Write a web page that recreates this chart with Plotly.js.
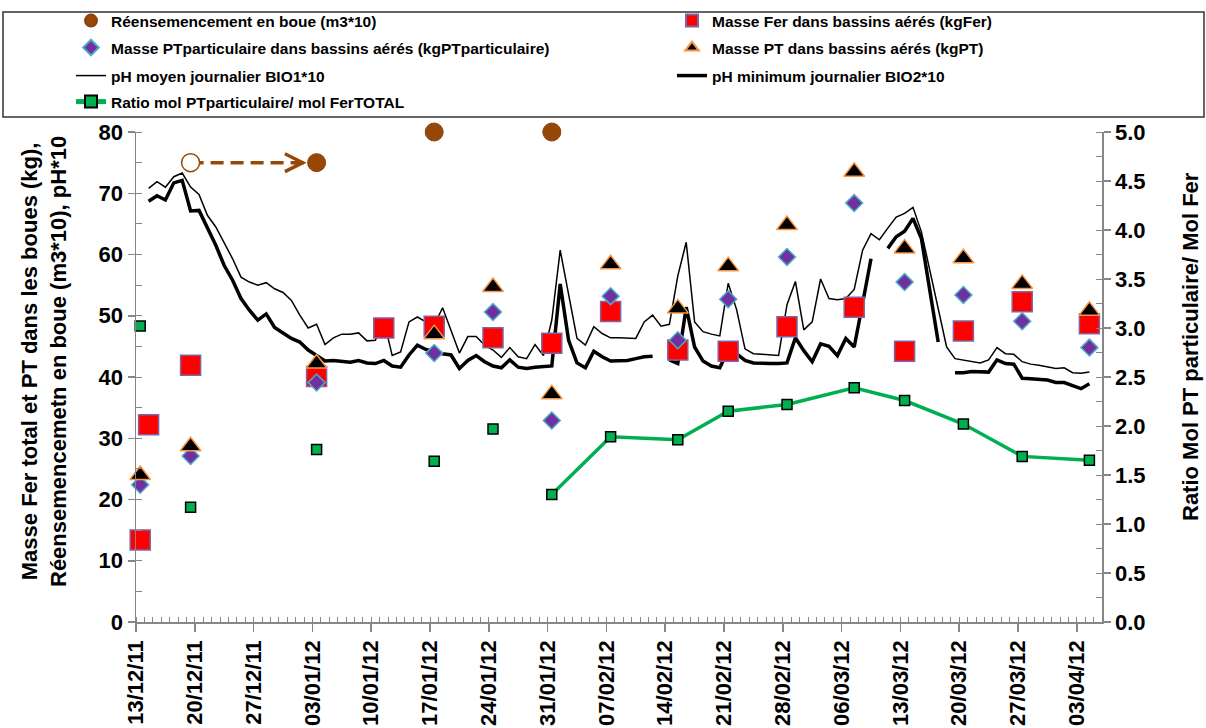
<!DOCTYPE html>
<html>
<head>
<meta charset="utf-8">
<script src="https://cdn.plot.ly/plotly-3.0.1.min.js"></script>
<style>html,body{margin:0;padding:0;background:#fff;}#chart{width:1206px;height:728px;}</style>
</head>
<body>
<div id="chart"></div>
<script>
// ---------------- DATA ----------------
const sampleDates = ['2011-12-13','2011-12-19','2012-01-03','2012-01-17','2012-01-24','2012-01-31','2012-02-07',
  '2012-02-15','2012-02-21','2012-02-28','2012-03-07','2012-03-13','2012-03-20','2012-03-27','2012-04-04'];
const ptPartValues = [22.4, 27.1, 39.1, 43.9, 50.6, 32.9, 53.2, 46.0, 52.7, 59.6, 68.4, 55.5, 53.4, 49.1, 44.8];
const ptValues     = [24.0, 28.7, 42.2, 47.0, 54.7, 37.2, 58.4, 51.2, 58.1, 64.8, 73.5, 61.0, 59.4, 55.2, 50.8];
const ratioValues  = [3.02, 1.17, 1.76, 1.64, 1.97, 1.30, 1.89, 1.86, 2.15, 2.22, 2.39, 2.26, 2.02, 1.69, 1.65];
const ratioLineStart = '2012-01-31';

const ferDates = ['2011-12-13','2011-12-14','2011-12-19','2012-01-03','2012-01-11','2012-01-17','2012-01-24','2012-01-31',
  '2012-02-07','2012-02-15','2012-02-21','2012-02-28','2012-03-07','2012-03-13','2012-03-20','2012-03-27','2012-04-04'];
const ferValues = [13.4, 32.2, 41.9, 40.1, 48.0, 48.3, 46.4, 45.5, 50.7, 44.4, 44.2, 48.2, 51.4, 44.2, 47.5, 52.3, 48.7];

const reseedDates  = ['2012-01-03','2012-01-17','2012-01-31'];
const reseedValues = [75, 80, 80];
const plannedReseedDates  = ['2011-12-19'];
const plannedReseedValues = [75];

const phStart = '2011-12-14';
const phMoyen = [
  70.8, 71.9, 71.0, 72.7, 73.3, 71.0, 69.8, 66.4, 64.5, 62.0,
  59.3, 56.3, 55.5, 55.0, 55.4, 54.4, 53.8, 52.5, 50.1, 48.0,
  48.6, 45.3, 46.4, 47.0, 47.0, 47.2, 45.9, 46.0, 49.3, 43.5,
  44.1, 49.0, 49.8, 49.0, 48.5, 51.3, 47.6, 43.9, 46.6, 46.6,
  45.2, 44.4, 43.2, 44.8, 43.3, 43.0, 45.3, 43.5, 49.3, 60.7,
  53.5, 46.3, 45.2, 48.2, 47.1, 46.4, 46.4, 46.4, 46.3, 49.0,
  50.1, 48.3, 48.6, 56.5, 62.0, 49.0, 47.4, 47.0, 46.7, 55.3,
  51.0, 44.6, 43.8, 43.7, 43.6, 43.5, 51.8, 55.6, 47.7, 49.0,
  56.0, 52.8, 52.6, 52.8, 54.3, 60.7, 63.4, 62.4, 64.3, 66.1,
  66.7, 67.7, 63.7, 57.4, 51.2, 44.9, 43.0, 42.8, 42.5, 42.3,
  42.8, 44.8, 43.8, 43.7, 42.5, 42.1, 41.9, 41.7, 41.4, 41.5,
  40.7, 40.6, 40.8
];
const phMin = [
  68.7, 69.6, 68.9, 71.7, 72.1, 67.1, 67.2, 64.5, 61.5, 58.2,
  55.8, 52.8, 50.9, 49.3, 50.3, 48.1, 47.2, 46.3, 45.7, 44.4,
  43.5, 42.6, 42.7, 42.6, 42.4, 42.7, 42.3, 42.2, 42.7, 41.8,
  41.6, 43.6, 45.2, 44.5, 44.1, 43.8, 43.6, 41.4, 42.7, 43.5,
  42.5, 41.8, 41.5, 42.8, 41.6, 41.4, 41.6, 41.7, 41.8, 55.2,
  46.0, 42.3, 41.5, 44.2, 43.3, 42.6, 42.6, 42.7, 43.0, 43.3,
  43.4, null, 42.8, 42.2, 51.4, 44.9, 42.6, 41.8, 41.5, 44.4,
  43.8, 42.7, 42.3, 42.2, 42.2, 42.2, 42.3, 46.4, 44.3, 42.5,
  45.4, 45.0, 43.5, 46.3, 44.9, 52.0, 59.3, null, 61.0, 62.9,
  63.8, 65.9, 62.6, 54.2, 45.7, null, 40.7, 40.7, 40.9, 40.8,
  40.8, 42.8, 42.2, 42.1, 39.8, 39.7, 39.6, 39.5, 39.1, 39.1,
  38.6, 38.1, 38.9
];

const names = {
  reseed: 'Réensemencement en boue (m3*10)',
  fer: 'Masse Fer dans bassins aérés (kgFer)',
  ptPart: 'Masse PTparticulaire dans bassins aérés (kgPTparticulaire)',
  pt: 'Masse PT dans bassins aérés (kgPT)',
  phMoy: 'pH moyen journalier BIO1*10',
  phMin: 'pH minimum journalier BIO2*10',
  ratio: 'Ratio mol PTparticulaire/ mol FerTOTAL'
};
const yTitle = 'Masse Fer total et PT dans les boues (kg),<br>Réensemencemetn en boue (m3*10), pH*10';
const y2Title = 'Ratio Mol PT particulaire/ Mol Fer';

// ---------------- HELPERS ----------------
const DAY = 86400000;
const FONT = 'Arial, "Liberation Sans", sans-serif';
function noon(d) { return d + ' 12:00'; }
function addDays(s, n) {
  const t = new Date(s + 'T00:00:00Z').getTime() + n * DAY;
  return new Date(t).toISOString().slice(0, 10);
}
const phDates = phMoyen.map((_, i) => addDays(phStart, i));
const splitIdx = sampleDates.indexOf(ratioLineStart);

const BROWN = '#974806';
const AXIS = '#868686';
const COL1 = 556; // legend column width (px) for first-column entries

// ---------------- TRACES ----------------
const traces = [
  { name: names.phMoy, x: phDates.map(noon), y: phMoyen, mode: 'lines', type: 'scatter',
    line: { color: '#000', width: 1.5 }, legend: 'legend3', legendrank: 5, legendwidth: COL1, hoverinfo: 'skip' },
  { name: names.phMin, x: phDates.map(noon), y: phMin, mode: 'lines', type: 'scatter', connectgaps: false,
    line: { color: '#000', width: 3.5 }, legend: 'legend3', legendrank: 6, hoverinfo: 'skip' },
  { name: names.fer, x: ferDates.map(noon), y: ferValues, mode: 'markers', type: 'scatter', cliponaxis: false,
    marker: { symbol: 'square', size: 20, color: '#FF0000', line: { color: '#8064A2', width: 1.5 } },
    legend: 'legend', legendrank: 2 },
  { name: names.ptPart, x: sampleDates.map(noon), y: ptPartValues, mode: 'markers', type: 'scatter', cliponaxis: false,
    marker: { symbol: 'diamond', size: 13, color: '#7030A0', line: { color: '#4BACC6', width: 1.5 } },
    legend: 'legend2', legendrank: 3, legendwidth: COL1 },
  { name: names.pt, x: sampleDates.map(noon), y: ptValues, mode: 'markers', type: 'scatter', cliponaxis: false,
    marker: { symbol: 'triangle-up', size: 18, color: '#000', line: { color: '#F79646', width: 1.5 } },
    legend: 'legend2', legendrank: 4 },
  { name: 'planned', x: plannedReseedDates.map(noon), y: plannedReseedValues, mode: 'markers', type: 'scatter',
    cliponaxis: false, showlegend: false,
    marker: { symbol: 'circle', size: 18, color: '#fff', line: { color: BROWN, width: 1.5 } } },
  { name: names.reseed, x: reseedDates.map(noon), y: reseedValues, mode: 'markers', type: 'scatter', cliponaxis: false,
    marker: { symbol: 'circle', size: 18, color: BROWN, line: { color: '#8a3f10', width: 1 } },
    legend: 'legend', legendrank: 1, legendwidth: COL1 },
  { name: 'ratio-isolated', x: sampleDates.slice(0, splitIdx).map(noon), y: ratioValues.slice(0, splitIdx),
    yaxis: 'y2', mode: 'markers', type: 'scatter', showlegend: false, cliponaxis: false,
    marker: { symbol: 'square', size: 10, color: '#00B050', line: { color: '#000', width: 1.5 } } },
  { name: names.ratio, x: sampleDates.slice(splitIdx).map(noon), y: ratioValues.slice(splitIdx),
    yaxis: 'y2', mode: 'lines+markers', type: 'scatter', cliponaxis: false,
    line: { color: '#00B050', width: 3.5 },
    marker: { symbol: 'square', size: 10, color: '#00B050', line: { color: '#000', width: 1.5 } },
    legend: 'legend4', legendrank: 7 }
];

// ---------------- LAYOUT ----------------
const W = 1206, H = 728;
const M = { l: 136, r: 104, t: 132, b: 106, autoexpand: false };
const pw = W - M.l - M.r, ph = H - M.t - M.b;
const px2x = p => (p - M.l) / pw;
const px2y = p => (H - M.b - p) / ph;

const legendFont = { family: FONT, size: 15.5, color: '#000', weight: 'bold' };
function mkLegend(rowY, sizing) {
  return { orientation: 'h', x: px2x(71), y: px2y(rowY), xanchor: 'left', yanchor: 'middle',
    font: legendFont, bgcolor: 'rgba(0,0,0,0)',
    borderwidth: 0, itemsizing: sizing, traceorder: 'normal', itemclick: false, itemdoubleclick: false };
}

const tickFont = { family: FONT, size: 22, color: '#000', weight: 'bold' };

const layout = {
  width: W, height: H, margin: M,
  paper_bgcolor: '#fff', plot_bgcolor: '#fff',
  font: { family: FONT, color: '#000' },
  showlegend: true,
  legend: mkLegend(21, 'constant'), legend2: mkLegend(48, 'constant'),
  legend3: mkLegend(76, 'trace'), legend4: mkLegend(102, 'constant'),
  xaxis: {
    type: 'date', range: ['2011-12-13', '2012-04-06'],
    tick0: '2011-12-13', dtick: 7 * DAY, tickformat: '%d/%m/%y', tickangle: -90,
    tickfont: tickFont, ticks: 'outside', ticklen: 8, tickwidth: 1.5, tickcolor: AXIS,
    minor: { tick0: '2011-12-13', dtick: DAY, ticks: 'inside', ticklen: 5, tickwidth: 1, tickcolor: AXIS, showgrid: false },
    showline: true, linecolor: AXIS, linewidth: 1.5, showgrid: false, zeroline: false, fixedrange: true
  },
  yaxis: {
    range: [0, 80], dtick: 10, tickfont: tickFont, ticks: 'outside', ticklen: 7, tickwidth: 1.5, tickcolor: AXIS,
    minor: { dtick: 5, ticks: 'inside', ticklen: 6, tickwidth: 1, tickcolor: AXIS, showgrid: false },
    showline: true, linecolor: AXIS, linewidth: 1.5, showgrid: false, zeroline: false, fixedrange: true
  },
  yaxis2: {
    overlaying: 'y', side: 'right', range: [0, 5], dtick: 0.5, tickformat: '.1f',
    tickfont: tickFont, ticks: 'outside', ticklen: 7, tickwidth: 1.5, tickcolor: AXIS,
    minor: { dtick: 0.25, ticks: 'inside', ticklen: 6, tickwidth: 1, tickcolor: AXIS, showgrid: false },
    showline: true, linecolor: AXIS, linewidth: 1.5, showgrid: false, zeroline: false, fixedrange: true
  },
  shapes: [
    { type: 'rect', xref: 'paper', yref: 'paper', x0: px2x(3), x1: px2x(1204), y0: px2y(117), y1: px2y(12),
      line: { color: '#333', width: 1.5 }, fillcolor: 'rgba(0,0,0,0)', layer: 'above' },
    { type: 'line', xref: 'x', yref: 'y', layer: 'below',
      x0: noon(plannedReseedDates[0]), x1: noon(reseedDates[0]), y0: plannedReseedValues[0], y1: reseedValues[0],
      line: { color: BROWN, width: 3.5, dash: '13px,7px' } }
  ],
  annotations: [
    { text: '', x: noon(reseedDates[0]), y: reseedValues[0], xref: 'x', yref: 'y',
      showarrow: true, ax: -24, ay: 0, arrowhead: 5, arrowsize: 1, arrowwidth: 3.5, arrowcolor: BROWN, standoff: 10 },
    { text: yTitle, xref: 'paper', yref: 'paper', x: px2x(44), y: px2y(362), xanchor: 'center', yanchor: 'middle',
      textangle: -90, showarrow: false, font: { family: FONT, size: 22, color: '#000', weight: 'bold' } },
    { text: y2Title, xref: 'paper', yref: 'paper', x: px2x(1190), y: px2y(347), xanchor: 'center', yanchor: 'middle',
      textangle: -90, showarrow: false, font: { family: FONT, size: 22, color: '#000', weight: 'bold' } }
  ]
};

Plotly.newPlot('chart', traces, layout, { displayModeBar: false, staticPlot: true });
</script>
</body>
</html>
